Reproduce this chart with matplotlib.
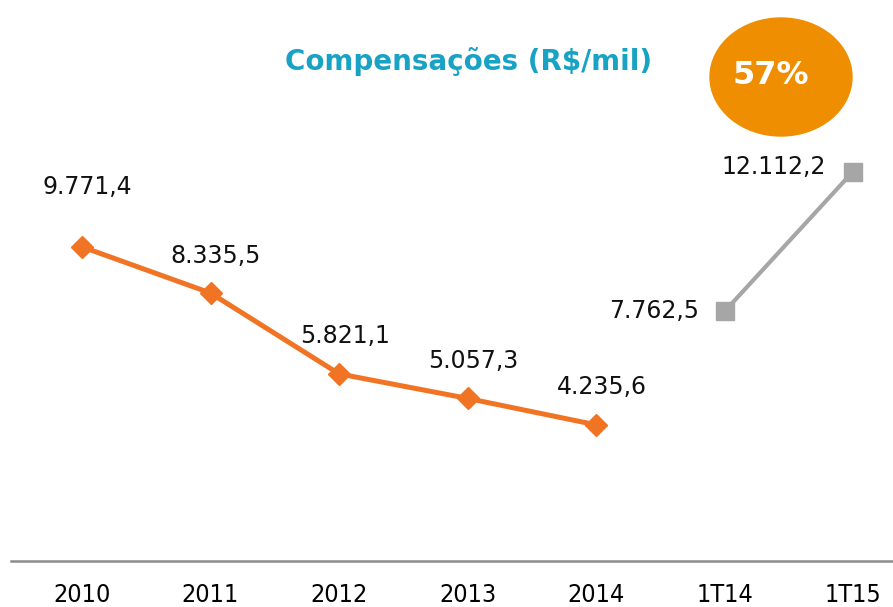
import matplotlib.pyplot as plt
from matplotlib.patches import Ellipse

# dados
anos = ['2010', '2011', '2012', '2013', '2014', '1T14', '1T15']
anual = [9771.4, 8335.5, 5821.1, 5057.3, 4235.6]
trimestre = [7762.5, 12112.2]
rot_anual = ['9.771,4', '8.335,5', '5.821,1', '5.057,3', '4.235,6']
rot_tri = ['7.762,5', '12.112,2']

laranja = '#F07424'
cinza = '#A6A6A6'

fig = plt.figure(figsize=(8.93, 6.07), dpi=100)
ax = fig.add_axes([11 / 893, 46 / 607, 882 / 893, 561 / 607])

x_anual = list(range(len(anual)))
x_tri = [5, 6]
ax.plot(x_anual, anual, color=laranja, lw=3.6, marker='D', ms=11, zorder=3)
ax.plot(x_tri, trimestre, color=cinza, lw=3, marker='s', ms=13, zorder=3)

for i, (v, t) in enumerate(zip(anual, rot_anual)):
    dy = 43 if i == 0 else 27
    ax.annotate(t, (i, v), xytext=(4, dy), textcoords='offset points',
                ha='center', va='center', fontsize=17, color='#111111')
ax.annotate(rot_tri[0], (x_tri[0], trimestre[0]), xytext=(-51, 0), textcoords='offset points',
            ha='center', va='center', fontsize=17, color='#111111')
ax.annotate(rot_tri[1], (x_tri[1], trimestre[1]), xytext=(-57, 3), textcoords='offset points',
            ha='center', va='center', fontsize=17, color='#111111')

ax.set_xlim(-0.5525, 6.311)
ax.set_ylim(0, 17449)
ax.set_xticks(range(len(anos)))
ax.set_xticklabels(anos, fontsize=18, fontstretch='condensed')
ax.tick_params(axis='x', length=0, pad=16)
ax.set_yticks([])
for s in ['top', 'left', 'right']:
    ax.spines[s].set_visible(False)
ax.spines['bottom'].set_color('#8C8C8C')
ax.spines['bottom'].set_linewidth(1.8)

fig.text(469 / 893, 1 - 62 / 607, 'Compensações (R$/mil)', ha='center', va='center',
         fontsize=20, fontweight='bold', color='#18A3C4')

elip = Ellipse((781 / 893, 1 - 77 / 607), 142 / 893, 118 / 607,
               transform=fig.transFigure, color='#EF8E00', zorder=5)
fig.patches.append(elip)
fig.text(771 / 893, 1 - 75 / 607, '57%', ha='center', va='center',
         fontsize=23, fontweight='bold', color='white', zorder=6)

plt.savefig('out.png', dpi=100)
